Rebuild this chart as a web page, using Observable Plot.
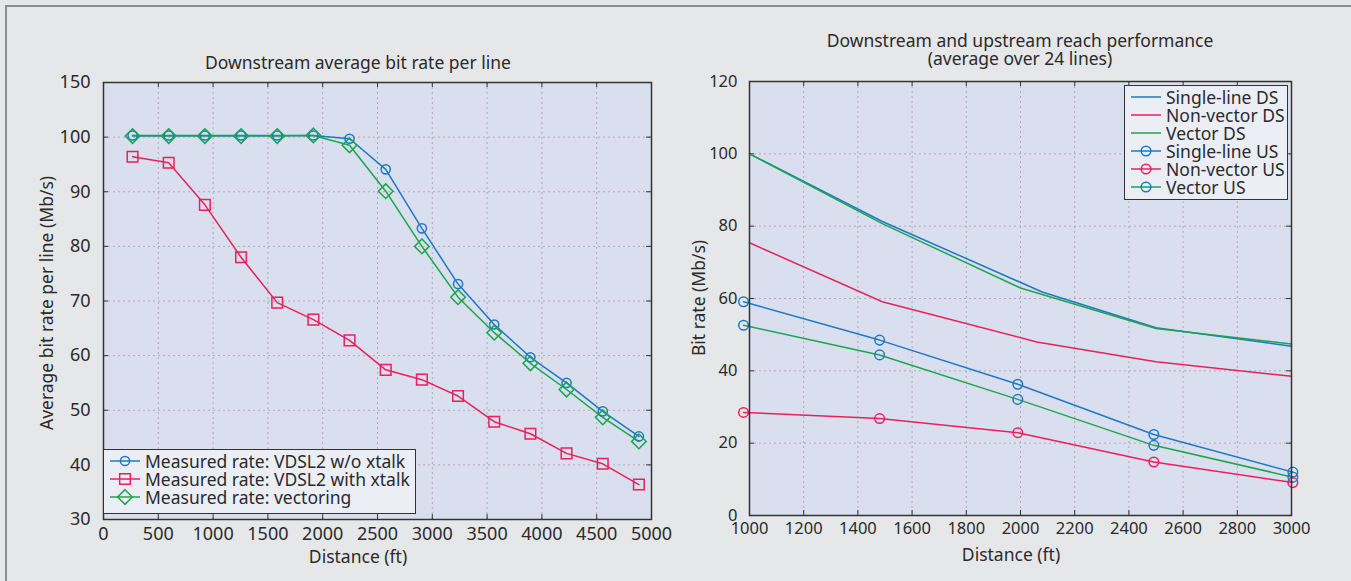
<!DOCTYPE html>
<html><head><meta charset="utf-8">
<script src="https://cdn.jsdelivr.net/npm/d3@7"></script>
<script src="https://cdn.jsdelivr.net/npm/@observablehq/plot@0.6"></script>
<style>
html,body{margin:0;padding:0}
body{background:#e6e7e9;width:1351px;height:581px;overflow:hidden;position:relative;font-family:"Noto Sans",sans-serif;color:#2b2b2b}
#border{position:absolute;left:5px;top:5px;width:1346px;height:576px;border-top:2px solid #8e8e8e;border-left:2px solid #8e8e8e;box-sizing:border-box}
.abs{position:absolute;white-space:nowrap}
.title{font-size:17.5px;text-align:center;line-height:18px;transform:translateX(-50%)}
.xlab{font-size:17.5px;line-height:20px;transform:translate(-50%,-50%)}
.ylab{font-size:17.5px;line-height:20px;transform:translate(-50%,-50%) rotate(-90deg)}
.legend{background:#eceef6;border:1px solid #333;box-sizing:border-box;padding:2px 0 0 4px}
.legend .row{display:flex;align-items:center;height:18px}
.legend svg{flex:none;margin-right:3px}
.legend span{font-size:17.5px;line-height:18px}
#chartL{left:0;top:0}
#chartR{left:680px;top:0}
</style></head>
<body>
<div id="border"></div>
<div id="chartL" class="abs"></div>
<div id="chartR" class="abs"></div>
<div class="abs title" style="left:358px;top:53px">Downstream average bit rate per line</div>
<div class="abs title" style="left:1020px;top:31px">Downstream and upstream reach performance<br>(average over 24 lines)</div>
<div class="abs xlab" style="left:358px;top:556px">Distance (ft)</div>
<div class="abs xlab" style="left:1011px;top:554px">Distance (ft)</div>
<div class="abs ylab" style="left:46px;top:303px">Average bit rate per line (Mb/s)</div>
<div class="abs ylab" style="left:698px;top:298px">Bit rate (Mb/s)</div>
<div id="legL" class="abs legend" style="left:103px;top:449px;width:313px;height:65px"></div>
<div id="legR" class="abs legend" style="left:1124px;top:85px;width:164px;height:115px"></div>
<script>
// ---------- Left chart data ----------
const leftDistance = [265,595,925,1255,1585,1915,2245,2575,2905,3235,3565,3895,4225,4555,4885];
const rateNoXtalk   = [100.3,100.3,100.3,100.3,100.3,100.3,99.7,94.1,83.3,73.1,65.7,59.7,55.0,49.8,45.2];
const rateWithXtalk = [96.4,95.3,87.6,78.0,69.7,66.6,62.8,57.4,55.6,52.6,47.9,45.7,42.1,40.2,36.4];
const rateVectoring = [100.2,100.2,100.2,100.2,100.2,100.3,98.5,90.1,80.0,70.7,64.2,58.6,53.8,48.7,44.3];
const leftSeries = ["Measured rate: VDSL2 w/o xtalk","Measured rate: VDSL2 with xtalk","Measured rate: vectoring"];
const leftXTicks = [0,500,1000,1500,2000,2500,3000,3500,4000,4500,5000];
const leftYTicks = [30,40,50,60,70,80,90,100,110];
const leftYTickLabels = ["30","40","50","60","70","80","90","100","150"];

// ---------- Right chart data ----------
const singleDsDist = [1000,1490,2080,2500,3000];
const singleDsRate = [100,81.3,61.8,51.9,46.8];
const nonVecDsDist = [1000,1490,2060,2500,3000];
const nonVecDsRate = [75.4,59.1,48.0,42.5,38.5];
const vecDsDist    = [1000,1490,2000,2500,3000];
const vecDsRate    = [100,80.7,62.9,51.7,47.4];
const usDist       = [978,1480,1990,2492,3005];
const singleUsRate = [59.1,48.5,36.3,22.4,12.0];
const nonVecUsRate = [28.5,26.8,22.9,14.8,9.1];
const vecUsRate    = [52.6,44.4,32.1,19.4,10.6];
const rightSeries = ["Single-line DS","Non-vector DS","Vector DS","Single-line US","Non-vector US","Vector US"];
const rightXTicks = [1000,1200,1400,1600,1800,2000,2200,2400,2600,2800,3000];
const rightYTicks = [0,20,40,60,80,100,120];

const BLUE = "#1f78c6", RED = "#e8215c", GREEN = "#1ba64b";
const PLOTBG = "#d9dfee", GRID = "#adadad", AXIS = "#333";
const FONT = "'Noto Sans', sans-serif";
const plain = d => String(d);

function inwardTicks(xt, yt, w, h, len) {
  return [
    Plot.ruleX(xt, {x: d => d, insetTop: h - len, stroke: AXIS}),
    Plot.ruleX(xt, {x: d => d, insetBottom: h - len, stroke: AXIS}),
    Plot.ruleY(yt, {y: d => d, insetRight: w - len, stroke: AXIS}),
    Plot.ruleY(yt, {y: d => d, insetLeft: w - len, stroke: AXIS})
  ];
}

// ---------- Left chart ----------
{
  const W = 680, H = 581, mL = 103, mR = 29, mT = 82, mB = 62;
  const iw = W - mL - mR, ih = H - mT - mB;
  const cols = [rateNoXtalk, rateWithXtalk, rateVectoring];
  const colors = [BLUE, RED, GREEN];
  const syms = ["circle", "square", "diamond2"];
  const rs = [4.6, 6.0, 6.6];
  const rows = s => leftDistance.map((d, i) => ({x: d, y: cols[s][i]}));
  const marks = [
    Plot.frame({fill: PLOTBG, stroke: null}),
    Plot.gridX(leftXTicks, {stroke: GRID, strokeOpacity: 1, strokeDasharray: "2,3"}),
    Plot.gridY(leftYTicks, {stroke: GRID, strokeOpacity: 1, strokeDasharray: "2,3"}),
    ...inwardTicks(leftXTicks, leftYTicks, iw, ih, 5),
    Plot.axisX(leftXTicks, {tickSize: 0, tickPadding: 8, label: null, fontSize: 18, tickFormat: plain}),
    Plot.axisY(leftYTicks, {tickSize: 0, tickPadding: 13, label: null, fontSize: 18,
      tickFormat: d => leftYTickLabels[leftYTicks.indexOf(d)]})
  ];
  [0, 1, 2].forEach(s => {
    marks.push(Plot.line(rows(s), {x: "x", y: "y", stroke: colors[s], strokeWidth: 1.5}));
  });
  [0, 1, 2].forEach(s => {
    marks.push(Plot.dot(rows(s), {x: "x", y: "y", stroke: colors[s], symbol: syms[s], r: rs[s], strokeWidth: 1.5, fill: "none"}));
  });
  marks.push(Plot.frame({stroke: AXIS, strokeWidth: 1.5}));
  const p = Plot.plot({
    width: W, height: H, marginLeft: mL, marginRight: mR, marginTop: mT, marginBottom: mB,
    style: {background: "transparent", fontFamily: FONT, color: "#2b2b2b", overflow: "visible"},
    x: {domain: [0, 5000]}, y: {domain: [30, 110]},
    marks
  });
  document.getElementById("chartL").append(p);

  const leg = document.getElementById("legL");
  leftSeries.forEach((name, s) => {
    const row = document.createElement("div"); row.className = "row";
    const sym = d3.symbol(d3["symbol" + ({circle: "Circle", square: "Square", diamond2: "Diamond2"})[syms[s]]], Math.PI * rs[s] * rs[s])();
    row.innerHTML = `<svg width="34" height="18"><line x1="2" x2="32" y1="9" y2="9" stroke="${colors[s]}" stroke-width="1.5"/><path d="${sym}" transform="translate(17,9)" fill="none" stroke="${colors[s]}" stroke-width="1.5"/></svg><span>${name}</span>`;
    leg.append(row);
  });
}

// ---------- Right chart ----------
{
  const W = 671, H = 581, mL = 69, mR = 60, mT = 81, mB = 66;
  const iw = W - mL - mR, ih = H - mT - mB;
  const ds = [[singleDsDist, singleDsRate, BLUE], [nonVecDsDist, nonVecDsRate, RED], [vecDsDist, vecDsRate, GREEN]];
  const us = [[singleUsRate, BLUE, BLUE], [nonVecUsRate, RED, RED], [vecUsRate, GREEN, BLUE]];
  const marks = [
    Plot.frame({fill: PLOTBG, stroke: null}),
    Plot.gridX(rightXTicks, {stroke: GRID, strokeOpacity: 1, strokeDasharray: "2,3"}),
    Plot.gridY(rightYTicks, {stroke: GRID, strokeOpacity: 1, strokeDasharray: "2,3"}),
    ...inwardTicks(rightXTicks, rightYTicks, iw, ih, 5),
    Plot.axisX(rightXTicks, {tickSize: 0, tickPadding: 7, label: null, fontSize: 16.5, tickFormat: plain}),
    Plot.axisY(rightYTicks, {tickSize: 0, tickPadding: 12, label: null, fontSize: 16.5, tickFormat: plain})
  ];
  ds.forEach(([xs, ys, c]) => {
    marks.push(Plot.line(xs.map((d, i) => ({x: d, y: ys[i]})), {x: "x", y: "y", stroke: c, strokeWidth: 1.5}));
  });
  us.forEach(([ys, c]) => {
    marks.push(Plot.line(usDist.map((d, i) => ({x: d, y: ys[i]})), {x: "x", y: "y", stroke: c, strokeWidth: 1.5}));
  });
  us.forEach(([ys, c, mc]) => {
    marks.push(Plot.dot(usDist.map((d, i) => ({x: d, y: ys[i]})), {x: "x", y: "y", stroke: mc, r: 4.8, strokeWidth: 1.5, fill: "none"}));
  });
  marks.push(Plot.frame({stroke: AXIS, strokeWidth: 1.5}));
  const p = Plot.plot({
    width: W, height: H, marginLeft: mL, marginRight: mR, marginTop: mT, marginBottom: mB,
    style: {background: "transparent", fontFamily: FONT, color: "#2b2b2b", overflow: "visible"},
    x: {domain: [1000, 3000]}, y: {domain: [0, 120]},
    marks
  });
  document.getElementById("chartR").append(p);

  const leg = document.getElementById("legR");
  const legColors = [[BLUE, null], [RED, null], [GREEN, null], [BLUE, BLUE], [RED, RED], [GREEN, BLUE]];
  rightSeries.forEach((name, s) => {
    const [lc, mc] = legColors[s];
    const row = document.createElement("div"); row.className = "row";
    row.innerHTML = `<svg width="34" height="18"><line x1="2" x2="32" y1="9" y2="9" stroke="${lc}" stroke-width="1.5"/>${mc ? `<circle cx="17" cy="9" r="4.8" fill="none" stroke="${mc}" stroke-width="1.5"/>` : ""}</svg><span>${name}</span>`;
    leg.append(row);
  });
}
</script>
</body></html>
